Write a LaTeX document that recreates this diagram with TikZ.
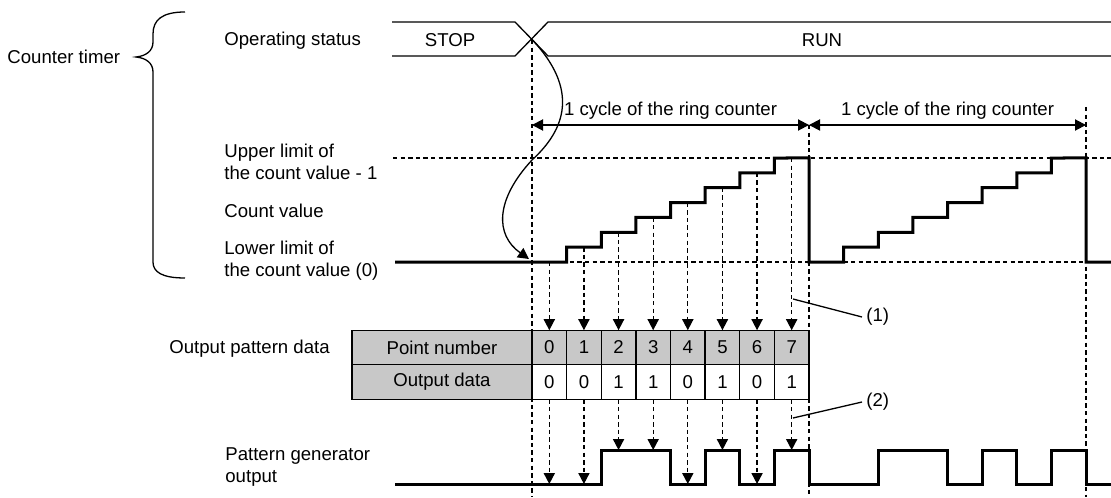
\documentclass[tikz,border=0pt]{standalone}
\usepackage{fontspec}
\setmainfont{Liberation Sans}
\usetikzlibrary{arrows.meta,calc}
\definecolor{tabgray}{RGB}{200,200,200}

\begin{document}
\begin{tikzpicture}[x=0.5pt,y=-0.5pt,>={Triangle[length=5.5pt,width=5.6pt]},
  txt/.style={font=\fontsize{9.3}{11}\selectfont, inner sep=0pt, align=left},
  sig/.style={line width=1.5pt},
  thin/.style={line width=0.65pt},
  dsh/.style={line width=0.6pt, dash pattern=on 2.2pt off 1.6pt},
  cell/.style={draw, thin, inner sep=0pt, outer sep=0pt, minimum width=17.31pt,
    minimum height=17.3pt, font=\fontsize{9.3}{11}\selectfont}]
  \useasboundingbox (0,0) rectangle (1111,497);
  % ---- labels on the left ----
  \node[txt, anchor=west] (ctimer) at (7,57) {Counter timer};
  \draw[thin] (185,12) .. controls (162,12) and (153,20) .. (153,34) -- (153,42)
    .. controls (153,51) and (146,56) .. (136,57) .. controls (146,58) and (153,63) .. (153,72)
    -- (153,262) .. controls (153,272) and (162,278) .. (185,278);
  \node[txt, anchor=west] (opstat) at (224,41) {Operating status};
  \node[txt, anchor=west] (upper) at (224,162) {Upper limit of\\the count value - 1};
  \node[txt, anchor=west] (cval) at (224,211) {Count value};
  \node[txt, anchor=west] (lower) at (224,261) {Lower limit of\\the count value (0)};
  \node[txt, anchor=west] (opdata) at (169,349) {Output pattern data};
  \node[txt, anchor=west] (pgout) at (225,467) {Pattern generator\\output};
  % ---- operating status ----
  \draw[thin] (392,22) -- (515,22) -- (548,56) -- (1111,56);
  \draw[thin] (392,56) -- (515,56) -- (548,22) -- (1111,22);
  \coordinate (cross) at (531.5,39);
  \node[txt] (stop) at (450,40) {STOP};
  \node[txt] (run) at (822,40) {RUN};
  % ---- guide lines ----
  \draw[dsh] (532,40) -- (532,497);
  \draw[dsh] (809,125) -- (809,497);
  \draw[dsh] (1086,107) -- (1086,497);
  \draw[dsh] (393,158) -- (1111,158);
  \draw[dsh] (395,262) -- (1111,262);
  % ---- ring counter cycles ----
  \coordinate (c0) at (532,125);
  \coordinate (c1) at (809,125);
  \coordinate (c2) at (1086,125);
  \draw[thin, <->] (c0) -- (c1) node[txt, midway, above=2.5pt] (cyc1) {1 cycle of the ring counter};
  \draw[thin, <->] (c1) -- (c2) node[txt, midway, above=2.5pt] (cyc2) {1 cycle of the ring counter};
  \draw[thin, ->] (cross) .. controls (580,90) and (565,130) .. (532,160)
    .. controls (495,200) and (495,235) .. (529,259);
  % ---- count value ----
  \draw[sig] (395,262) foreach \c in {0,277} { -- ({532+\c},262)
    foreach \k in {1,...,7} { -- ({532+\c+\k*34.625},{262-(\k-1)*14.857})
      -- ({532+\c+\k*34.625},{262-\k*14.857}) }
    -- ({809+\c},158) -- ({809+\c},262) } -- (1111,262);
  % ---- output pattern table ----
  \node[cell, fill=tabgray, minimum width=90pt] (hdpn) at (442,347.5) {Point number};
  \node[cell, fill=tabgray, minimum width=90pt] (hdod) at (442,382) {Output data};
  \foreach \v [count=\i from 0] in {0,0,1,1,0,1,0,1} {
    \node[cell, fill=tabgray] (pn\i) at ({549.3+\i*34.625},347.5) {\i};
    \node[cell] (od\i) at ({549.3+\i*34.625},382) {\v};
    \draw[dsh, ->] ({549.3+\i*34.625},{262-\i*14.857}) -- (pn\i.north);
    \draw[dsh, ->] (od\i.south) -- ({549.3+\i*34.625},{484-34*\v});
  }
  % ---- pattern generator output ----
  \draw[sig] (395,484) foreach \c in {0,277} { -- ({601+\c},484) -- ({601+\c},450)
    -- ({670.5+\c},450) -- ({670.5+\c},484) -- ({705+\c},484) -- ({705+\c},450)
    -- ({739.6+\c},450) -- ({739.6+\c},484) -- ({774.4+\c},484) -- ({774.4+\c},450)
    -- ({809+\c},450) -- ({809+\c},484) } -- (1111,484);
  % ---- notes ----
  \node[txt, anchor=west] (n1) at (866,317) {(1)};
  \node[txt, anchor=west] (n2) at (866,402) {(2)};
  \draw[thin] (793,299) -- ([xshift=-2pt]n1.west);
  \draw[thin] (793,418) -- ([xshift=-2pt]n2.west);
\end{tikzpicture}
\end{document}
